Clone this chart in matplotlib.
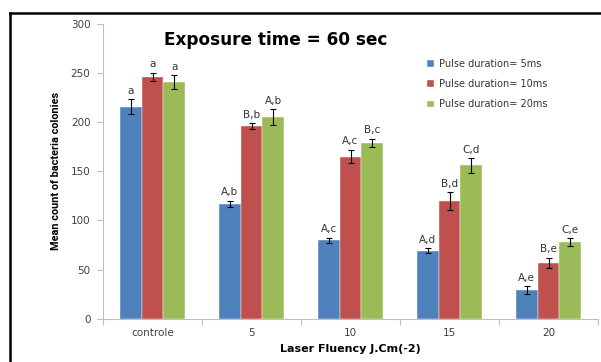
import matplotlib
matplotlib.use("Agg")
import matplotlib.pyplot as plt
from matplotlib.lines import Line2D
import numpy as np

categories = ["controle", "5", "10", "15", "20"]
series_names = ["Pulse duration= 5ms", "Pulse duration= 10ms", "Pulse duration= 20ms"]
means_5ms = [216, 117, 80, 69, 29]
means_10ms = [246, 196, 165, 120, 57]
means_20ms = [241, 205, 179, 156, 78]
err_5ms = [7.5, 3, 2.5, 2.5, 4]
err_10ms = [4.5, 3, 7, 9, 5]
err_20ms = [7, 8, 4, 7.5, 4]
labels_5ms = ["a", "A,b", "A,c", "A,d", "A,e"]
labels_10ms = ["a", "B,b", "A,c", "B,d", "B,e"]
labels_20ms = ["a", "A,b", "B,c", "C,d", "C,e"]
colors = ["#4F81BD", "#C0504D", "#9BBB59"]

plt.rcParams['font.family'] = ['DejaVu Sans']

fig = plt.figure(figsize=(6.01, 3.62), dpi=100)
ax = fig.add_axes([103/601, (362-318.7)/362, (598-103)/601, (318.7-24)/362])

x = np.arange(len(categories))
w = 0.22
all_means = [means_5ms, means_10ms, means_20ms]
all_errs = [err_5ms, err_10ms, err_20ms]
all_labels = [labels_5ms, labels_10ms, labels_20ms]
for i in range(3):
    xs = x + (i - 1) * w
    ax.bar(xs, all_means[i], width=w, color=colors[i], label=series_names[i],
           edgecolor='white', linewidth=0.3)
    ax.errorbar(xs, all_means[i], yerr=all_errs[i], fmt='none', ecolor='black',
                elinewidth=0.8, capsize=2.5, capthick=0.8)
    for xi, m, e, lab in zip(xs, all_means[i], all_errs[i], all_labels[i]):
        ax.annotate(lab, (xi, m + e), xytext=(0, 2.5), textcoords='offset points',
                    ha='center', va='bottom', fontsize=7.5, color='#333333')

ax.set_xlim(-0.5, len(categories) - 0.5)
ax.set_ylim(0, 300)
ax.set_yticks(range(0, 301, 50))
ax.set_xticks(x)
ax.set_xticklabels(categories)
ax.set_xticks(np.arange(-0.5, len(categories), 1.0), minor=True)
ax.tick_params(axis='x', which='major', length=0, labelsize=7.5, colors='#404040', pad=7)
ax.tick_params(axis='x', which='minor', length=4, color='#bfbfbf', width=0.8)
ax.tick_params(axis='y', length=4, color='#bfbfbf', width=0.8, labelsize=7.5, labelcolor='#404040', pad=5)
for s in ['top', 'right']:
    ax.spines[s].set_visible(False)
for s in ['left', 'bottom']:
    ax.spines[s].set_color('#bfbfbf')
    ax.spines[s].set_linewidth(0.8)

ax.set_ylabel("Mean count of bacteria colonies", fontsize=7.8, fontweight='bold',
              family=['Roboto', 'DejaVu Sans'], va='center')
ax.yaxis.set_label_coords((56.5 - 103) / 495, 0.503)
ax.set_xlabel("Laser Fluency J.Cm(-2)", fontsize=8, fontweight='bold', labelpad=4)

fig.text(276/601, 1 - 40/362, "Exposure time = 60 sec", ha='center', va='center',
         fontsize=12.2, fontweight='bold')

ax.legend(loc='upper left', bbox_to_anchor=((423-103)/495, 1 - (55-24)/294.7),
          frameon=False, fontsize=7, handlelength=0.7, handleheight=0.7,
          labelspacing=1.05, handletextpad=0.5, borderaxespad=0, labelcolor='#333333')

# black frame on top and left
fig.add_artist(Line2D([10/601, 1.0], [1 - 13/362, 1 - 13/362], color='black', lw=1.8,
                      transform=fig.transFigure))
fig.add_artist(Line2D([10/601, 10/601], [0, 1 - 13/362], color='black', lw=1.8,
                      transform=fig.transFigure))

fig.savefig("out.png", dpi=100)
